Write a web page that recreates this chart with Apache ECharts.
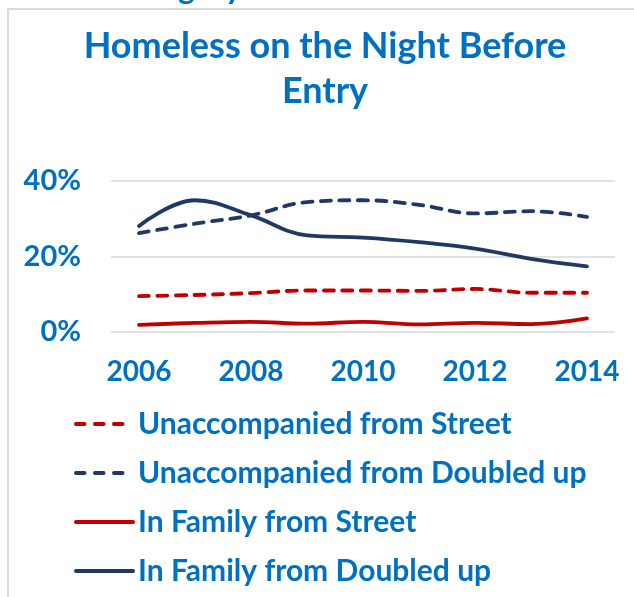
<!DOCTYPE html>
<html>
<head>
<meta charset="utf-8">
<script src="https://cdn.jsdelivr.net/npm/echarts@6/dist/echarts.min.js"></script>
<style>
  html, body { margin: 0; padding: 0; background: #ffffff; }
  #chart { width: 634px; height: 597px; }
</style>
</head>
<body>
<div id="chart"></div>
<script>
// Years on the category axis
const years = ['2006', '2007', '2008', '2009', '2010', '2011', '2012', '2013', '2014'];

// Share of entrants (%) by where they stayed the night before entry
const unaccompaniedStreet  = [9.5, 9.8, 10.3, 11.0, 11.0, 10.9, 11.4, 10.4, 10.4];
const unaccompaniedDoubled = [26.2, 28.7, 30.9, 34.4, 34.9, 33.7, 31.4, 32.0, 30.5];
const familyStreet         = [1.9, 2.4, 2.7, 2.2, 2.7, 2.0, 2.4, 2.1, 3.6];
const familyDoubled        = [28.1, 34.9, 30.9, 25.6, 25.0, 23.8, 22.1, 19.4, 17.4];

const seriesNames = [
  'Unaccompanied from Street',
  'Unaccompanied from Doubled up',
  'In Family from Street',
  'In Family from Doubled up'
];

const BLUE = '#0070C0';
const NAVY = '#203864';
const RED = '#C00000';
const FONT = 'Lato';

function lineSeries(name, data, color, dashed) {
  return {
    name: name,
    type: 'line',
    data: data,
    smooth: 0.4,
    symbol: 'none',
    lineStyle: {
      color: color,
      width: 3.8,
      type: dashed ? [10, 8.5] : 'solid',
      cap: 'round',
      join: 'round'
    },
    itemStyle: { color: color }
  };
}

// Legend key: three short dashes for the dashed series, a solid stroke otherwise
function legendItem(name, color, dashed) {
  return {
    name: name,
    lineStyle: {
      color: color,
      width: 4,
      cap: 'round',
      type: dashed ? [8.5, 10.5, 8.5, 10.5, 8.5, 60] : 'solid'
    }
  };
}

const chart = echarts.init(document.getElementById('chart'), null, { renderer: 'canvas' });

chart.setOption({
  backgroundColor: '#ffffff',
  animation: false,
  graphic: [
    {
      type: 'rect',
      shape: { x: 8, y: 9, width: 800, height: 800 },
      style: { fill: 'none', stroke: '#d9d9d9', lineWidth: 2 },
      silent: true
    },
    {
      type: 'text',
      x: 112,
      y: -27,
      style: {
        text: 'Category',
        font: 'bold 32px ' + FONT,
        fill: BLUE
      },
      silent: true
    },
    {
      type: 'text',
      x: 325,
      y: 24,
      style: {
        text: 'Homeless on the Night Before\nEntry',
        font: 'bold 36px ' + FONT,
        fill: BLUE,
        align: 'center',
        verticalAlign: 'top',
        lineHeight: 45
      }
    }
  ],
  legend: {
    orient: 'vertical',
    left: 74,
    top: 409,
    height: 188,
    padding: 0,
    itemWidth: 57,
    itemHeight: 14,
    itemGap: 19,
    data: [
      legendItem(seriesNames[0], RED, true),
      legendItem(seriesNames[1], NAVY, true),
      legendItem(seriesNames[2], RED, false),
      legendItem(seriesNames[3], NAVY, false)
    ],
    itemStyle: { opacity: 0 },
    textStyle: {
      color: BLUE,
      fontFamily: FONT,
      fontWeight: 'bold',
      fontSize: 30
    }
  },
  grid: {
    left: 111,
    right: 19,
    top: 181,
    bottom: 265,
    containLabel: false
  },
  xAxis: {
    type: 'category',
    data: years,
    boundaryGap: true,
    axisLine: { show: false },
    axisTick: { show: false },
    axisLabel: {
      interval: 1,
      margin: 26,
      color: BLUE,
      fontFamily: FONT,
      fontWeight: 'bold',
      fontSize: 28
    }
  },
  yAxis: {
    type: 'value',
    min: 0,
    max: 40,
    interval: 20,
    axisLine: { show: false },
    axisTick: { show: false },
    splitLine: { lineStyle: { color: '#d9d9d9', width: 1.5 } },
    axisLabel: {
      formatter: '{value}%',
      margin: 30,
      color: BLUE,
      fontFamily: FONT,
      fontWeight: 'bold',
      fontSize: 29
    }
  },
  series: [
    lineSeries(seriesNames[0], unaccompaniedStreet, RED, true),
    lineSeries(seriesNames[1], unaccompaniedDoubled, NAVY, true),
    lineSeries(seriesNames[2], familyStreet, RED, false),
    lineSeries(seriesNames[3], familyDoubled, NAVY, false)
  ]
});
</script>
</body>
</html>
